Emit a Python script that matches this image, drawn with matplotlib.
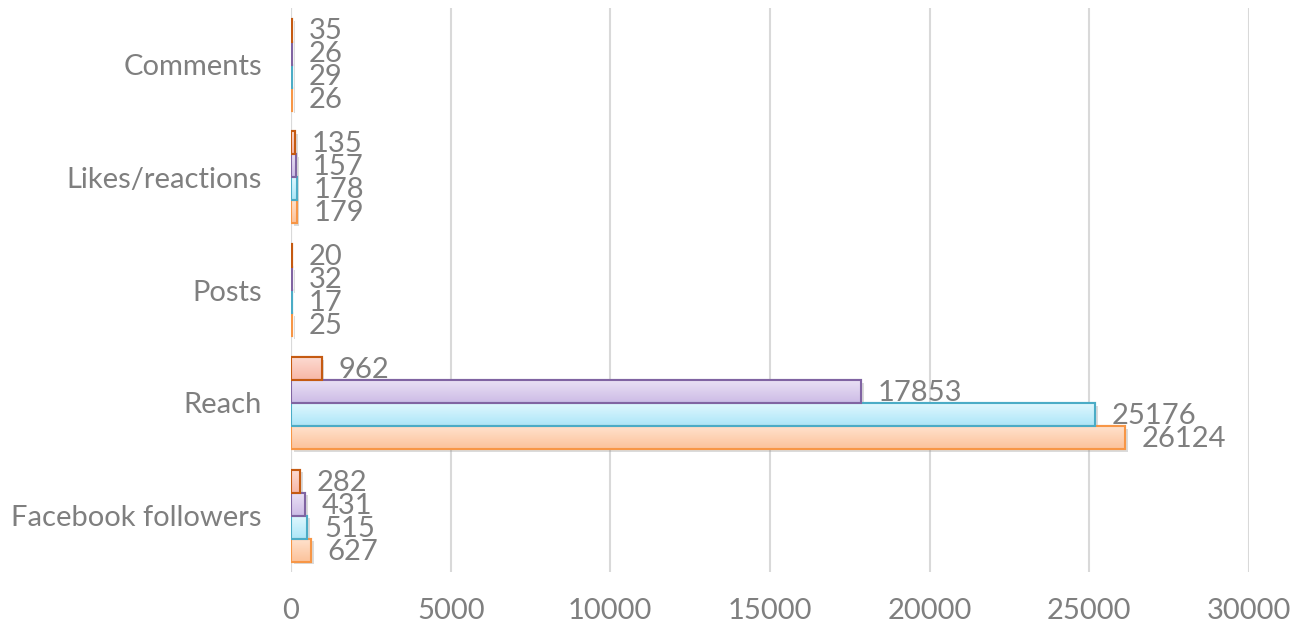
import numpy as np
import matplotlib
matplotlib.use('Agg')
import matplotlib.pyplot as plt
import matplotlib.patheffects as pe
from matplotlib.colors import LinearSegmentedColormap

# categories, bottom to top
categories = ['Facebook followers', 'Reach', 'Posts', 'Likes/reactions', 'Comments']

# four series, drawn bottom to top inside each group
series_a = [627, 26124, 25, 179, 26]
series_b = [515, 25176, 17, 178, 29]
series_c = [431, 17853, 32, 157, 26]
series_d = [282, 962, 20, 135, 35]

xticks = [0, 5000, 10000, 15000, 20000, 25000, 30000]

# (top fill, bottom fill, edge)
styles = [
    ('#FFE3CF', '#FCC29A', '#F79646'),
    ('#E2F8FE', '#ACE6F8', '#4BACC6'),
    ('#EAE2F5', '#CDBBE6', '#8064A2'),
    ('#FCDCD4', '#F8B7A6', '#C55A11'),
]

plt.rcParams['font.family'] = ['Lato', 'DejaVu Sans']
grey = '#7F7F7F'
fs = 21

fig = plt.figure(figsize=(12.91, 6.29), dpi=100)
ax = fig.add_axes([0.2254, 0.0906, 0.742, 0.8964])

y = np.arange(len(categories))
h = 0.204
allseries = [series_a, series_b, series_c, series_d]
for k, vals in enumerate(allseries):
    top, bot, edge = styles[k]
    cmap = LinearSegmentedColormap.from_list('g%d' % k, [bot, top])
    offs = (k - 1.5) * h
    bars = ax.barh(y + offs, vals, height=h, color=top, edgecolor=edge,
                   linewidth=1.5, zorder=3,
                   path_effects=[pe.SimplePatchShadow(offset=(2, -2), shadow_rgbFace='#999999', alpha=0.35), pe.Normal()])
    for b, v in zip(bars, vals):
        x0, y0 = b.get_x(), b.get_y()
        w, hh = b.get_width(), b.get_height()
        grad = np.linspace(0, 1, 50).reshape(-1, 1)
        im = ax.imshow(grad, cmap=cmap, aspect='auto', origin='lower',
                       extent=(x0, x0 + w, y0, y0 + hh), zorder=3.5)
        im.set_clip_path(b)
        # redraw the outline above the gradient
        ax.barh(y0 + hh / 2, w, height=hh, left=x0, color='none',
                edgecolor=edge, linewidth=1.5, zorder=4)
        ax.annotate(str(v), (x0 + w, y0 + hh / 2), xytext=(12, -1),
                    textcoords='offset points', fontsize=fs, color=grey,
                    va='center', ha='left', zorder=5)

ax.set_xlim(0, 30000)
ax.set_ylim(-0.5, len(categories) - 0.5)
ax.set_xticks(xticks)
ax.set_xticklabels([str(t) for t in xticks])
ax.set_yticks(y)
ax.set_yticklabels(categories)
ax.tick_params(axis='both', length=0, labelsize=fs, labelcolor=grey)
ax.tick_params(axis='x', pad=19)
ax.tick_params(axis='y', pad=21)
ax.grid(axis='x', color='#D9D9D9', linewidth=1.5, zorder=0)
for s in ax.spines.values():
    s.set_visible(False)
ax.axvline(0, color='#D9D9D9', linewidth=1.5, zorder=1)

fig.savefig('out.png', dpi=100)
